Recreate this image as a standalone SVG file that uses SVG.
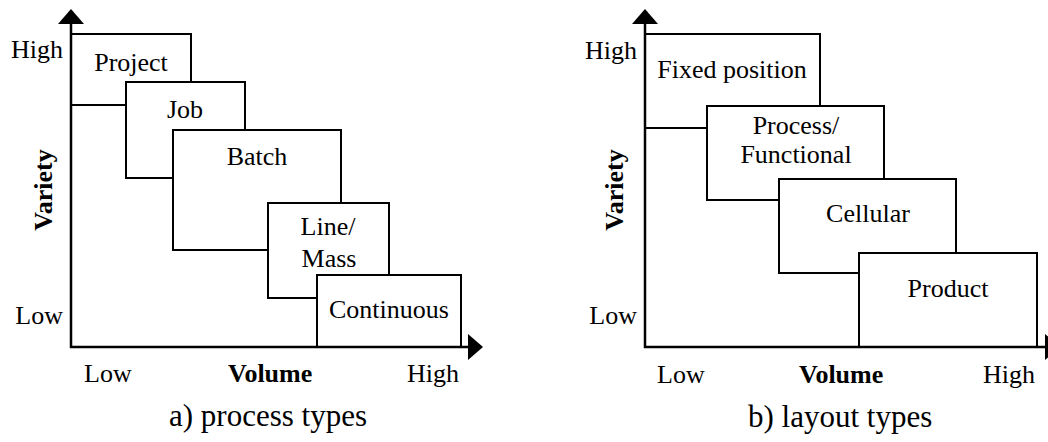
<svg xmlns="http://www.w3.org/2000/svg" width="1048" height="442" viewBox="0 0 1048 442">
<style>
.box{fill:#fff;stroke:#000;stroke-width:2}
.t{font-family:"Liberation Serif","Times New Roman",serif;font-size:26px;fill:#000}
.m{text-anchor:middle}
.e{text-anchor:end}
.b{font-weight:bold}
.cap{font-family:"Liberation Serif","Times New Roman",serif;font-size:31px;fill:#000}
.ax{stroke:#000;stroke-width:2.5;fill:none}
.ah{fill:#000}
</style>
<rect width="1048" height="442" fill="#fff"/>
<g id="panel-a">
  <g id="project"><rect class="box" x="71" y="34" width="120" height="71"/><text class="t m" x="131" y="71">Project</text></g>
  <g id="job"><rect class="box" x="126" y="82" width="119" height="96"/><text class="t m" x="185" y="118">Job</text></g>
  <g id="batch"><rect class="box" x="173" y="130" width="168" height="120"/><text class="t m" x="257" y="165">Batch</text></g>
  <g id="line-mass"><rect class="box" x="268" y="203" width="121" height="95"/><text class="t m" x="328" y="235">Line/</text><text class="t m" x="329" y="267">Mass</text></g>
  <g id="continuous"><rect class="box" x="317" y="275" width="144" height="72"/><text class="t m" x="389" y="318">Continuous</text></g>
  <g id="labels-a">
    <text class="t e" x="63" y="58">High</text>
    <text class="t e" x="63" y="324">Low</text>
    <text class="t" x="84" y="382">Low</text>
    <text class="t b" x="228" y="382">Volume</text>
    <text class="t" x="407" y="382">High</text>
    <text class="t b m" transform="translate(52,190) rotate(-90)">Variety</text>
    <text class="cap" x="169" y="426">a) process types</text>
  </g>
</g>
<g id="panel-b">
  <g id="fixed-position"><rect class="box" x="645" y="34" width="175" height="94"/><text class="t m" x="732" y="78">Fixed position</text></g>
  <g id="process-functional"><rect class="box" x="707" y="106" width="177" height="94"/><text class="t m" x="796" y="134">Process/</text><text class="t m" x="796" y="163">Functional</text></g>
  <g id="cellular"><rect class="box" x="779" y="179" width="177" height="94"/><text class="t m" x="868" y="222">Cellular</text></g>
  <g id="product"><rect class="box" x="859" y="253" width="178" height="94"/><text class="t m" x="948" y="297">Product</text></g>
  <g id="labels-b">
    <text class="t e" x="637" y="59">High</text>
    <text class="t e" x="637" y="324">Low</text>
    <text class="t" x="657" y="383">Low</text>
    <text class="t b" x="799" y="383">Volume</text>
    <text class="t" x="983" y="383">High</text>
    <text class="t b m" transform="translate(623,190) rotate(-90)">Variety</text>
    <text class="cap" x="748" y="427">b) layout types</text>
  </g>
</g>
<g id="connectors">
  <path class="ax" d="M71 22 V347 H470"/>
  <polygon class="ah" points="71,9 58,24 84,24"/>
  <polygon class="ah" points="483,347 468,334 468,360"/>
  <path class="ax" d="M645 22 V347 H1048"/>
  <polygon class="ah" points="645,9 632,24 658,24"/>
  <polygon class="ah" points="1060,347 1045,334 1045,360"/>
</g>
</svg>
